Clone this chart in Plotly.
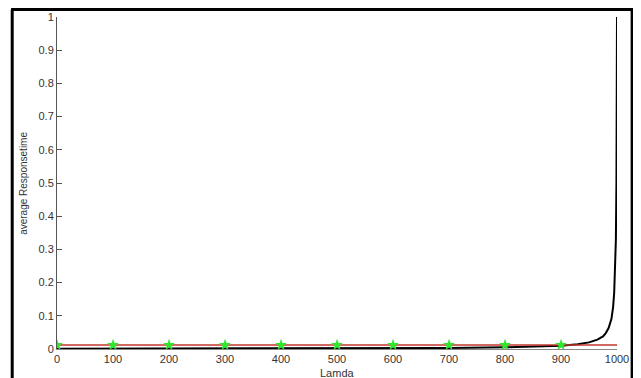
import plotly.graph_objects as go

# data
lamda = [0, 100, 200, 300, 400, 500, 600, 700, 800, 900, 930, 950, 965, 975, 980, 985, 990, 993, 995, 997, 998, 999, 1000]
resp = [0.001, 0.0011, 0.0012, 0.0014, 0.0017, 0.002, 0.0025, 0.0033, 0.005, 0.01, 0.014, 0.02, 0.028, 0.038, 0.048, 0.063, 0.09, 0.125, 0.17, 0.25, 0.33, 0.5, 1.0]
ref_x = [0, 1000]
ref_y = [0.012, 0.012]
mark_x = [0, 100, 200, 300, 400, 500, 600, 700, 800, 900]
mark_y = [0.012] * 10
xticks = [0, 100, 200, 300, 400, 500, 600, 700, 800, 900, 1000]
xtick_text = ["0", "100", "200", "300", "400", "500", "600", "700", "800", "900", "1000"]
yticks = [0, 0.1, 0.2, 0.3, 0.4, 0.5, 0.6, 0.7, 0.8, 0.9, 1]
ytick_text = ["0", "0.1", "0.2", "0.3", "0.4", "0.5", "0.6", "0.7", "0.8", "0.9", "1"]

fig = go.Figure()
fig.add_trace(go.Scatter(x=lamda, y=resp, mode="lines", line=dict(color="black", width=2), showlegend=False))
fig.add_trace(go.Scatter(x=ref_x, y=ref_y, mode="lines", line=dict(color="#c0392b", width=1.5), showlegend=False))
fig.add_trace(go.Scatter(x=mark_x, y=mark_y, mode="markers",
                         marker=dict(symbol="star", size=9, color="#2ee82e"), showlegend=False))

tfont = dict(family="Liberation Sans, Arial, sans-serif", size=11, color="#333333")
fig.update_layout(
    width=633, height=370,
    margin=dict(l=49, r=24, t=9, b=29),
    paper_bgcolor="white", plot_bgcolor="white",
    font=tfont,
    xaxis=dict(range=[0, 1000], tickvals=xticks, ticktext=xtick_text, tickfont=tfont,
               showgrid=False, zeroline=False,
               showline=True, linecolor="#888888", linewidth=1,
               ticks="", ticklen=0, automargin=False),
    yaxis=dict(range=[0, 1], tickvals=yticks, ticktext=ytick_text, tickfont=tfont,
               showgrid=False, zeroline=False,
               showline=True, linecolor="#555555", linewidth=1,
               ticks="inside", ticklen=5, tickcolor="#555555", automargin=False),
    annotations=[
        dict(text="Lamda", xref="paper", yref="paper", x=0.5, y=-0.072, xanchor="center", yanchor="middle",
             showarrow=False, font=dict(size=11, color="#333333")),
        dict(text="average Responsetime", xref="paper", yref="paper", x=-0.061, y=0.5, textangle=-90,
             xanchor="center", yanchor="middle", showarrow=False, font=dict(size=10, color="#333333")),
    ],
)

# outer black frame of the picture
fig.add_shape(type="line", xref="paper", yref="paper", x0=-0.080, x1=-0.080, y0=-0.12, y1=1.0226,
              line=dict(color="black", width=3))
fig.add_shape(type="line", xref="paper", yref="paper", x0=-0.082, x1=1.029, y0=1.0226, y1=1.0226,
              line=dict(color="black", width=3))
fig.add_shape(type="line", xref="paper", yref="paper", x0=1.027, x1=1.027, y0=-0.12, y1=1.0226,
              line=dict(color="black", width=3))

fig.write_html("out.html", config=dict(displayModeBar=False))
